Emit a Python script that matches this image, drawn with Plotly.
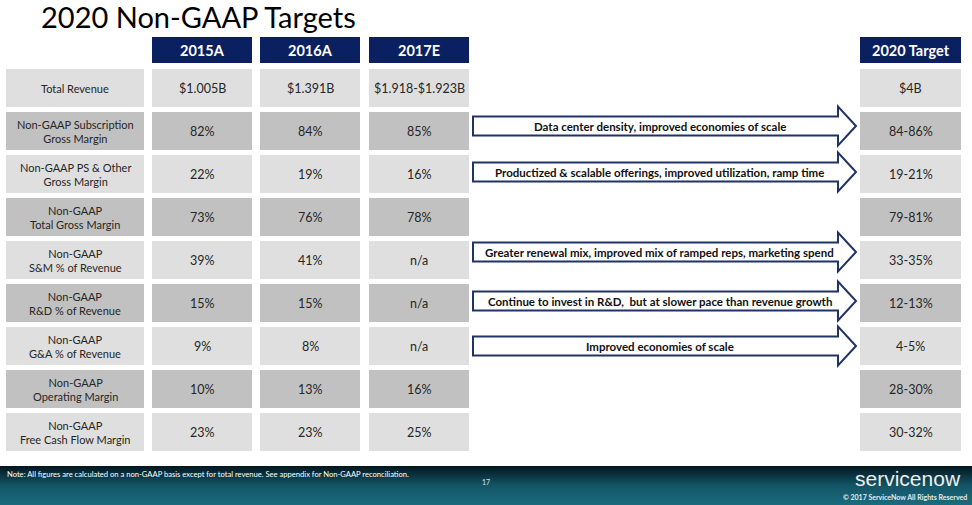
import plotly.graph_objects as go

# ---------------- data ----------------
title_text = "2020 Non-GAAP Targets"
period_headers = ["2015A", "2016A", "2017E"]
target_header = "2020 Target"
row_labels = [
    "Total Revenue",
    "Non-GAAP Subscription<br>Gross Margin",
    "Non-GAAP PS & Other<br>Gross Margin",
    "Non-GAAP<br>Total Gross Margin",
    "Non-GAAP<br>S&M % of Revenue",
    "Non-GAAP<br>R&D % of Revenue",
    "Non-GAAP<br>G&A % of Revenue",
    "Non-GAAP<br>Operating Margin",
    "Non-GAAP<br>Free Cash Flow Margin",
]
values_2015A = ["$1.005B", "82%", "22%", "73%", "39%", "15%", "9%", "10%", "23%"]
values_2016A = ["$1.391B", "84%", "19%", "76%", "41%", "15%", "8%", "13%", "23%"]
values_2017E = ["$1.918-$1.923B", "85%", "16%", "78%", "n/a", "n/a", "n/a", "16%", "25%"]
targets_2020 = ["$4B", "84-86%", "19-21%", "79-81%", "33-35%", "12-13%", "4-5%", "28-30%", "30-32%"]
arrow_texts = [
    None,
    "Data center density, improved economies of scale",
    "Productized & scalable offerings, improved utilization, ramp time",
    None,
    "Greater renewal mix, improved mix of ramped reps, marketing spend",
    "Continue to invest in R&D,  but at slower pace than revenue growth",
    "Improved economies of scale",
    None,
    None,
]
note_text = "Note: All figures are calculated on a non-GAAP basis except for total revenue. See appendix for Non-GAAP reconciliation."
page_number = "17"
logo_text = "servicenow"
copyright_text = "© 2017 ServiceNow All Rights Reserved"

# ---------------- layout / style ----------------
W, H = 972, 505
NAVY = "#0b2060"
ARROW = "#1f3366"
LIGHT = "#dfdfdf"
DARK = "#c1c1c1"
TXT = "#262626"
FONT = "Lato"

label_col = (6, 144)
value_cols = [(152, 252), (260, 360), (369, 469)]
target_col = (860, 961)
header_y = (37, 63)
row_top0, row_pitch, row_h = 69, 43, 38
arrow_offsets = [0, -5, -2, 0, -8, -2, 0, 0, 0]
arrow_x = (473, 838, 856)
body_half, head_half = 9.5, 19.5

fig = go.Figure()
shapes = []
ann = []


def rect(x0, x1, y0, y1, color):
    shapes.append(dict(type="rect", xref="x", yref="y", x0=x0, x1=x1, y0=y0, y1=y1,
                       fillcolor=color, line=dict(width=0), layer="below"))


def text(x, y, s, size, color=TXT, bold=False, xanchor="center", yanchor="middle", family=FONT):
    ann.append(dict(x=x, y=y, xref="x", yref="y", text=f"<b>{s}</b>" if bold else s,
                    showarrow=False, xanchor=xanchor, yanchor=yanchor,
                    font=dict(family=family, size=size, color=color)))


# title
text(39, 16, title_text, 29, color="#000000", xanchor="left")

# headers
for (x0, x1), h in zip(value_cols + [target_col], period_headers + [target_header]):
    rect(x0, x1, header_y[0], header_y[1], NAVY)
    text((x0 + x1) / 2, (header_y[0] + header_y[1]) / 2, h, 14.5, color="white", bold=True)

# rows
columns = [values_2015A, values_2016A, values_2017E]
for i, lab in enumerate(row_labels):
    y0 = row_top0 + i * row_pitch
    y1 = y0 + row_h
    yc = (y0 + y1) / 2
    fill = LIGHT if i % 2 == 0 else DARK
    rect(label_col[0], label_col[1], y0, y1, fill)
    text((label_col[0] + label_col[1]) / 2, yc, lab, 11)
    for (x0, x1), col in zip(value_cols, columns):
        rect(x0, x1, y0, y1, fill)
        text((x0 + x1) / 2, yc, col[i], 12.5)
    rect(target_col[0], target_col[1], y0, y1, fill)
    text((target_col[0] + target_col[1]) / 2, yc, targets_2020[i], 12.5)

    if arrow_texts[i]:
        ac = yc + arrow_offsets[i]
        xl, xb, xt = arrow_x
        path = (f"M{xl},{ac - body_half} L{xb},{ac - body_half} L{xb},{ac - head_half} "
                f"L{xt},{ac} L{xb},{ac + head_half} L{xb},{ac + body_half} L{xl},{ac + body_half} Z")
        shapes.append(dict(type="path", xref="x", yref="y", path=path, fillcolor="white",
                           line=dict(color=ARROW, width=2), layer="above"))
        text((xl + xb) / 2 + 4, ac, arrow_texts[i], 11.5, color="#111111", bold=True)

# footer gradient band
fy0, fy1 = 466, 505
fig.add_trace(go.Scatter(
    x=[0, W, W, 0, 0], y=[fy0, fy0, fy1, fy1, fy0], mode="lines", fill="toself",
    line=dict(width=0),
    fillgradient=dict(type="vertical",
                      colorscale=[[0, "#1b6b7f"], [0.5, "#135566"], [1, "#03161e"]]),
    hoverinfo="skip", showlegend=False))
text(5, 474, note_text, 7.6, color="white", xanchor="left")
text(486, 482, page_number, 7, color="#e0e0e0")
text(908, 478, logo_text, 21, color="#eeeeee", family="Liberation Sans")
text(969, 497, copyright_text, 7, color="#e8e8e8", bold=True, xanchor="right")

fig.update_layout(
    width=W, height=H,
    margin=dict(l=0, r=0, t=0, b=0),
    paper_bgcolor="white", plot_bgcolor="white",
    xaxis=dict(range=[0, W], visible=False, fixedrange=True),
    yaxis=dict(range=[H, 0], visible=False, fixedrange=True),
    shapes=shapes, annotations=ann, showlegend=False,
)
fig.write_html("out.html", config={"displayModeBar": False},
               post_script="document.body.style.margin='0';document.body.style.overflow='hidden';")
